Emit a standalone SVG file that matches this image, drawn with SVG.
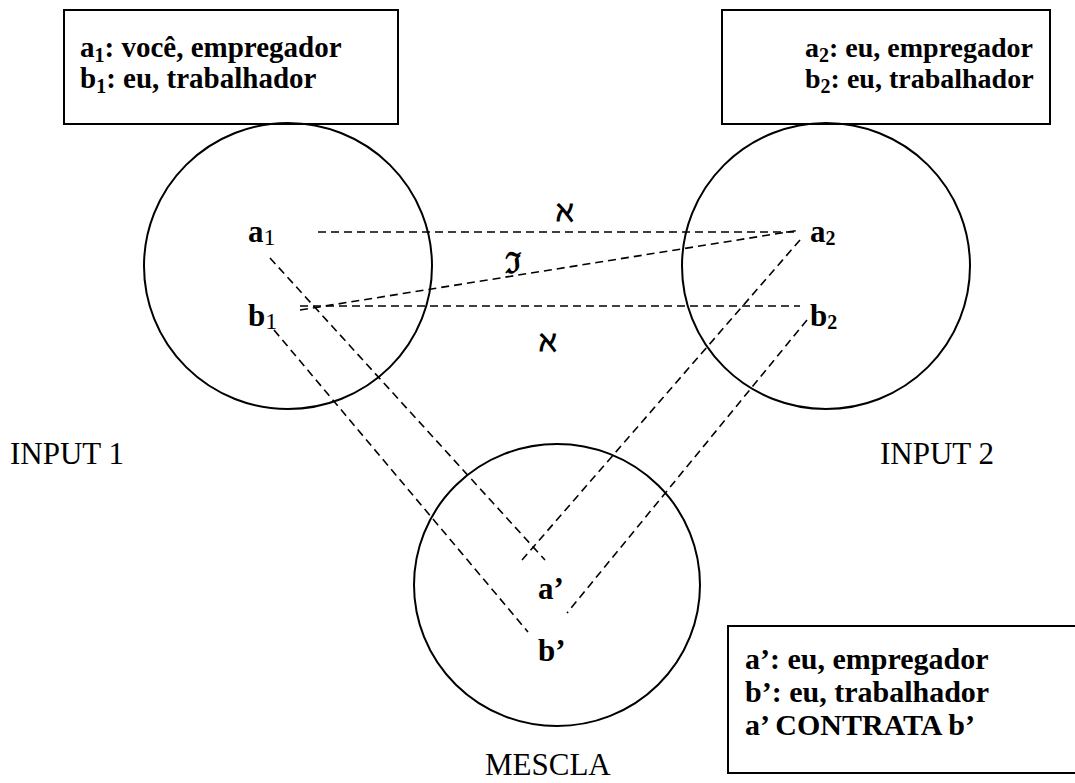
<svg xmlns="http://www.w3.org/2000/svg" width="1075" height="783" viewBox="0 0 1075 783">
<style>
.box{fill:#fff;stroke:#000;stroke-width:2}
.circ{fill:none;stroke:#000;stroke-width:2}
.t{font-family:"Liberation Serif","Times New Roman",serif;font-weight:bold;font-size:30px;fill:#000}
.t1{font-family:"Liberation Serif","Times New Roman",serif;font-weight:bold;font-size:29px;fill:#000}
.t2{font-family:"Liberation Serif","Times New Roman",serif;font-weight:bold;font-size:28px;fill:#000}
.n{font-family:"Liberation Serif","Times New Roman",serif;font-weight:bold;font-size:31px;fill:#000}
.r{font-family:"Liberation Serif","Times New Roman",serif;font-size:31px;fill:#000}
.sym{font-family:"DejaVu Serif","Liberation Serif",serif;font-weight:bold;font-size:29px;fill:#000}
.d{stroke:#000;stroke-width:1.6;stroke-dasharray:8,5;fill:none}
.sub{font-size:20px}
.subn{font-size:24px;font-weight:normal}
</style>
<rect width="1075" height="783" fill="#fff"/>
<g id="box1">
<rect class="box" x="64" y="10" width="334" height="114"/>
<text class="t1" x="80" y="57">a<tspan class="sub" dy="5">1</tspan><tspan dy="-5">: você, empregador</tspan></text>
<text class="t1" x="80" y="88">b<tspan class="sub" dy="5">1</tspan><tspan dy="-5">: eu, trabalhador</tspan></text>
</g>
<g id="box2">
<rect class="box" x="722" y="10" width="328" height="114"/>
<text class="t2" x="805" y="57">a<tspan class="sub" dy="5">2</tspan><tspan dy="-5">: eu, empregador</tspan></text>
<text class="t2" x="805" y="88">b<tspan class="sub" dy="5">2</tspan><tspan dy="-5">: eu, trabalhador</tspan></text>
</g>
<g id="input1">
<ellipse class="circ" cx="288" cy="266" rx="144" ry="143"/>
<text class="n" x="248" y="242">a<tspan class="subn" dy="3">1</tspan></text>
<text class="n" x="248" y="326">b<tspan class="subn" dy="3">1</tspan></text>
<text class="r" x="10" y="464">INPUT 1</text>
</g>
<g id="input2">
<ellipse class="circ" cx="826" cy="266" rx="144" ry="143"/>
<text class="n" x="810" y="242">a<tspan class="sub" dy="3">2</tspan></text>
<text class="n" x="810" y="326">b<tspan class="sub" dy="3">2</tspan></text>
<text class="r" x="880" y="464">INPUT 2</text>
</g>
<g id="mescla">
<ellipse class="circ" cx="557" cy="585" rx="143" ry="141"/>
<text class="n" x="538" y="599">a’</text>
<text class="n" x="538" y="661">b’</text>
<text class="r" x="485" y="775">MESCLA</text>
</g>
<g id="box3">
<rect class="box" x="728" y="626" width="354" height="147"/>
<text class="t" x="745" y="669">a’: eu, empregador</text>
<text class="t" x="745" y="702">b’: eu, trabalhador</text>
<text class="t" x="745" y="735">a’ CONTRATA b’</text>
</g>
<g id="connectors">
<line class="d" x1="318" y1="232" x2="797" y2="232"/>
<line class="d" x1="300" y1="306" x2="800" y2="306"/>
<line class="d" x1="300" y1="310" x2="800" y2="230"/>
<line class="d" x1="270" y1="258" x2="545" y2="560"/>
<line class="d" x1="274" y1="330" x2="528" y2="632"/>
<line class="d" x1="800" y1="240" x2="522" y2="560"/>
<line class="d" x1="807" y1="320" x2="567" y2="613"/>
<text class="sym" x="556" y="221">ℵ</text>
<text class="sym" x="505" y="273">ℑ</text>
<text class="sym" x="539" y="351">ℵ</text>
</g>
</svg>
